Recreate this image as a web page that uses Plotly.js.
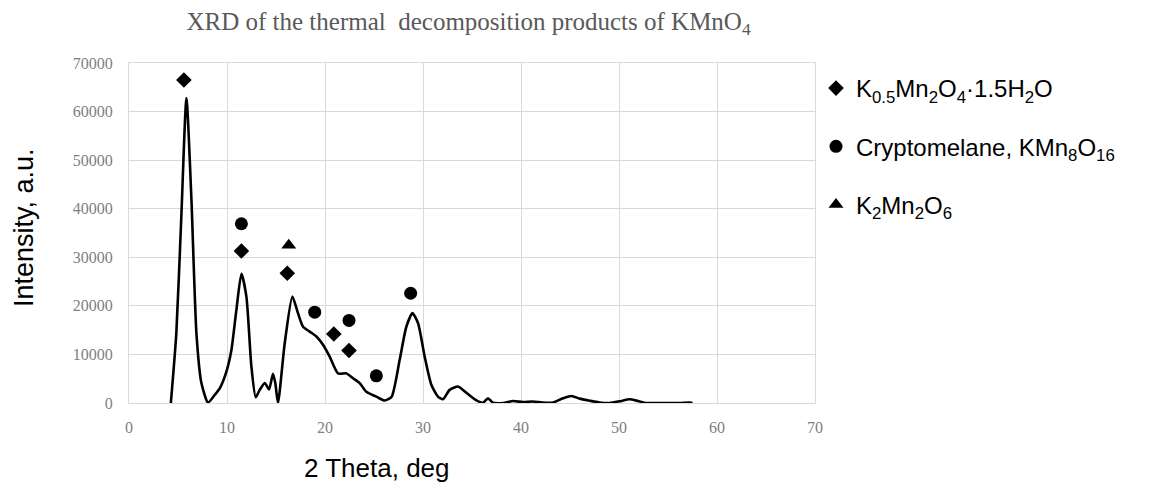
<!DOCTYPE html>
<html>
<head>
<meta charset="utf-8">
<script src="https://cdn.plot.ly/plotly-3.0.1.min.js"></script>
<style>html,body{margin:0;padding:0;background:#fff;}#chart{width:1158px;height:491px;}</style>
</head>
<body>
<div id="chart"></div>
<script>
// XRD pattern (2θ, intensity)
const twoTheta = [4.27, 4.83, 5.34, 5.86, 6.37, 6.88, 7.39, 8.06, 8.74, 9.26, 9.94, 10.45, 10.96, 11.47, 11.98, 12.49, 12.93, 13.34, 13.85, 14.29, 14.69, 14.93, 15.2, 15.89, 16.67, 17.24, 17.76, 18.44, 19.12, 19.8, 20.48, 21.33, 22.18, 22.86, 23.54, 24.22, 25.24, 26.1, 26.8, 27.62, 28.3, 28.92, 29.5, 30.17, 30.86, 31.53, 32.04, 32.72, 33.57, 34.43, 35.28, 36.12, 36.63, 37.14, 38.2, 39.18, 40.2, 41.2, 42.2, 43.27, 44.29, 45.14, 45.99, 47.0, 48.03, 49.05, 50.07, 51.09, 51.94, 52.8, 53.8, 55.2, 56.2, 57.2, 57.5];
const intensity = [0, 14400, 38400, 62800, 41900, 14400, 4100, 100, 1650, 3000, 6450, 10900, 19200, 26600, 21900, 7500, 1200, 2700, 4100, 2800, 6000, 4100, 0, 12300, 21900, 18500, 15700, 14700, 13700, 12000, 9550, 6100, 6100, 5100, 4100, 2300, 1300, 500, 1300, 8900, 15700, 18500, 16400, 9550, 3700, 1300, 760, 2700, 3400, 2100, 760, 60, 970, 60, 0, 400, 200, 300, 100, 100, 970, 1450, 900, 480, 100, 0, 350, 760, 400, 0, 0, 0, 0, 100, 0];

// Phase markers
const phaseNames = ["K<sub>0.5</sub>Mn<sub>2</sub>O<sub>4</sub>·1.5H<sub>2</sub>O", "Cryptomelane, KMn<sub>8</sub>O<sub>16</sub>", "K<sub>2</sub>Mn<sub>2</sub>O<sub>6</sub>"];
const birnessiteX = [5.6, 11.47, 16.15, 20.9, 22.45];
const birnessiteY = [66500, 31300, 26700, 14200, 10800];
const cryptomelaneX = [11.47, 18.95, 22.45, 25.24, 28.74];
const cryptomelaneY = [36900, 18700, 17000, 5600, 22600];
const k2mn2o6X = [16.3];
const k2mn2o6Y = [32500];

const xTicks = [0, 10, 20, 30, 40, 50, 60, 70];
const yTicks = [0, 10000, 20000, 30000, 40000, 50000, 60000, 70000];

const W = 1158, H = 491;
const L = 129, R = 343, T = 63, B = 88;
const pw = W - L - R, ph = H - T - B;
const px = v => (v - L) / pw;
const py = v => (H - B - v) / ph;

const traces = [
  {x: twoTheta, y: intensity, mode: 'lines', type: 'scatter', showlegend: false, hoverinfo: 'skip',
   line: {color: '#000', width: 2.6, shape: 'spline', smoothing: 0.6}},
  {x: birnessiteX, y: birnessiteY, mode: 'markers', type: 'scatter', name: phaseNames[0], legendgroup: 'a',
   marker: {symbol: 'diamond', size: 12, color: '#000'}},
  {x: cryptomelaneX, y: cryptomelaneY, mode: 'markers', type: 'scatter', name: phaseNames[1], legendgroup: 'b',
   marker: {symbol: 'circle', size: 13, color: '#000'}},
  {x: k2mn2o6X, y: k2mn2o6Y, mode: 'markers', type: 'scatter', name: phaseNames[2], legendgroup: 'c',
   marker: {symbol: 'triangle-up', size: 13, color: '#000'}}
];

const tickFont = {family: 'Liberation Serif, serif', size: 16, color: '#808080'};
const layout = {
  width: W, height: H,
  margin: {l: L, r: R, t: T, b: B, pad: 0},
  paper_bgcolor: '#fff', plot_bgcolor: '#fff',
  title: {text: 'XRD of the thermal  decomposition products of KMnO<sub>4</sub>',
          font: {family: 'Liberation Serif, serif', size: 25, color: '#595959'},
          xref: 'paper', x: 0.495, xanchor: 'center', yref: 'container', y: 1 - 21 / H, yanchor: 'middle'},
  xaxis: {range: [0, 70], tickvals: xTicks, ticktext: xTicks.map(String), showgrid: true, gridcolor: '#d9d9d9', gridwidth: 1,
          zeroline: false, showline: true, mirror: true, linecolor: '#d9d9d9', linewidth: 1,
          ticks: '', tickfont: tickFont, ticklabelstandoff: 10, fixedrange: true},
  yaxis: {range: [0, 70000], tickvals: yTicks, ticktext: yTicks.map(String), showgrid: true, gridcolor: '#d9d9d9', gridwidth: 1,
          zeroline: true, zerolinecolor: '#bfbfbf', zerolinewidth: 1, showline: true, mirror: true, linecolor: '#d9d9d9', linewidth: 1,
          ticks: '', tickfont: tickFont, ticklabelstandoff: 12, fixedrange: true},
  legend: {xref: 'container', yref: 'container', x: 816 / W, y: 1 - 66 / H, xanchor: 'left', yanchor: 'top',
           font: {family: 'Arial, Liberation Sans, sans-serif', size: 24, color: '#000'},
           tracegroupgap: 24, bgcolor: 'rgba(0,0,0,0)', borderwidth: 0},
  annotations: [
    {text: 'Intensity, a.u.', xref: 'paper', yref: 'paper', x: px(24), y: py(228), textangle: -90,
     showarrow: false, xanchor: 'center', yanchor: 'middle', font: {family: 'Arial, Liberation Sans, sans-serif', size: 27, color: '#000'}},
    {text: '2 Theta, deg', xref: 'paper', yref: 'paper', x: px(377), y: py(468),
     showarrow: false, xanchor: 'center', yanchor: 'middle', font: {family: 'Arial, Liberation Sans, sans-serif', size: 26, color: '#000'}}
  ],
  showlegend: true
};

Plotly.newPlot('chart', traces, layout, {displayModeBar: false, staticPlot: true});
</script>
</body>
</html>
